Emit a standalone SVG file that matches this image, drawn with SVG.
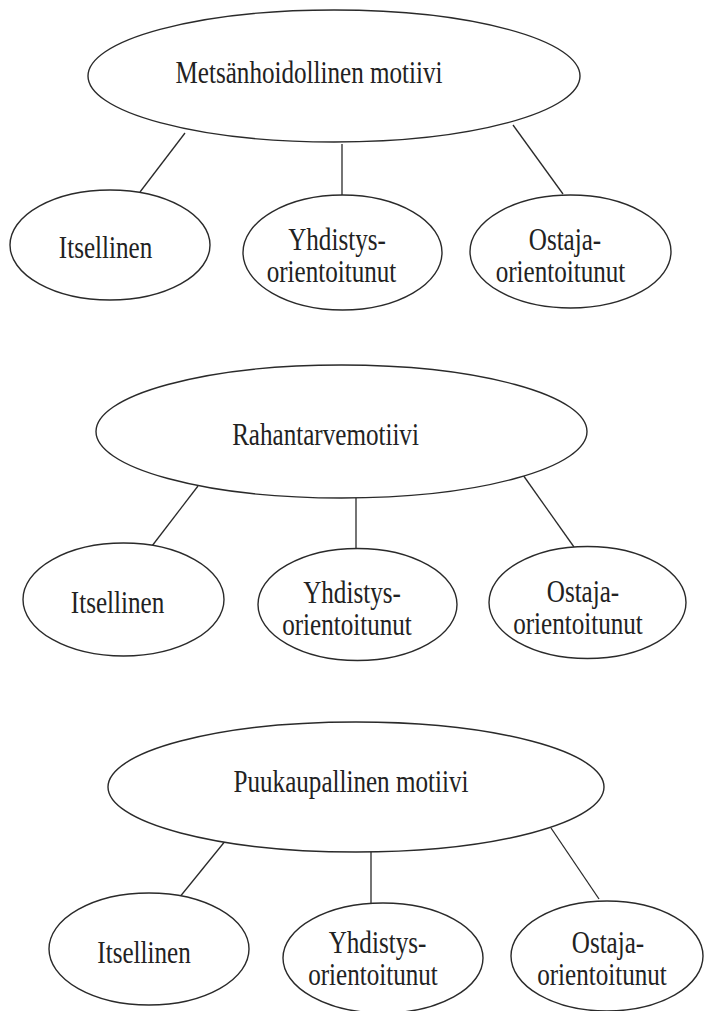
<svg xmlns="http://www.w3.org/2000/svg" width="704" height="1011" viewBox="0 0 704 1011">
<style>
ellipse{fill:#fff;stroke:#2a2a2a;stroke-width:1.4}
line{stroke:#2a2a2a;stroke-width:1.3}
text{font-family:"Liberation Serif","Times New Roman",serif;font-size:31px;fill:#222;text-anchor:middle}
</style>
<rect width="704" height="1011" fill="#fff"/>
<g id="connectors">
<line x1="185" y1="133" x2="140" y2="192"/>
<line x1="342" y1="144" x2="342" y2="195"/>
<line x1="513" y1="125" x2="563" y2="194"/>
<line x1="198" y1="486" x2="152" y2="546"/>
<line x1="356" y1="498" x2="356" y2="549"/>
<line x1="523" y1="475" x2="574" y2="547"/>
<line x1="226" y1="840" x2="179" y2="898"/>
<line x1="371" y1="852" x2="371" y2="903"/>
<line x1="551" y1="828" x2="599" y2="899"/>
</g>
<g id="top1"><ellipse cx="334" cy="76" rx="246" ry="66"/><text transform="translate(309 83) scale(0.81 1)">Metsänhoidollinen motiivi</text></g>
<g id="its1"><ellipse cx="110" cy="245" rx="100" ry="55"/><text transform="translate(105.5 257.5) scale(0.81 1)">Itsellinen</text></g>
<g id="yhd1"><ellipse cx="342.5" cy="252.5" rx="99.5" ry="57.5"/><text transform="translate(337 250) scale(0.81 1)">Yhdistys-</text><text transform="translate(331.5 282) scale(0.81 1)">orientoitunut</text></g>
<g id="ost1"><ellipse cx="570.5" cy="251.5" rx="100.5" ry="56.5"/><text transform="translate(565 250) scale(0.81 1)">Ostaja-</text><text transform="translate(560.5 282) scale(0.81 1)">orientoitunut</text></g>
<g id="top2"><ellipse cx="341.5" cy="431.5" rx="245.5" ry="66.5"/><text transform="translate(325.5 445) scale(0.81 1)">Rahantarvemotiivi</text></g>
<g id="its2"><ellipse cx="123.5" cy="599.5" rx="100.5" ry="56.5"/><text transform="translate(117.5 613) scale(0.81 1)">Itsellinen</text></g>
<g id="yhd2"><ellipse cx="357.5" cy="604.5" rx="99.5" ry="56"/><text transform="translate(352 603) scale(0.81 1)">Yhdistys-</text><text transform="translate(347 635) scale(0.81 1)">orientoitunut</text></g>
<g id="ost2"><ellipse cx="587.5" cy="602.5" rx="98.5" ry="56"/><text transform="translate(583 602) scale(0.81 1)">Ostaja-</text><text transform="translate(578 634) scale(0.81 1)">orientoitunut</text></g>
<g id="top3"><ellipse cx="356" cy="787" rx="248" ry="65"/><text transform="translate(351 792) scale(0.81 1)">Puukaupallinen motiivi</text></g>
<g id="its3"><ellipse cx="149" cy="949" rx="100" ry="56"/><text transform="translate(144 963) scale(0.81 1)">Itsellinen</text></g>
<g id="yhd3"><ellipse cx="383" cy="958" rx="100" ry="55"/><text transform="translate(377.5 953) scale(0.81 1)">Yhdistys-</text><text transform="translate(373 985) scale(0.81 1)">orientoitunut</text></g>
<g id="ost3"><ellipse cx="607" cy="956" rx="96" ry="55"/><text transform="translate(608 953) scale(0.81 1)">Ostaja-</text><text transform="translate(602 985) scale(0.81 1)">orientoitunut</text></g>
</svg>
